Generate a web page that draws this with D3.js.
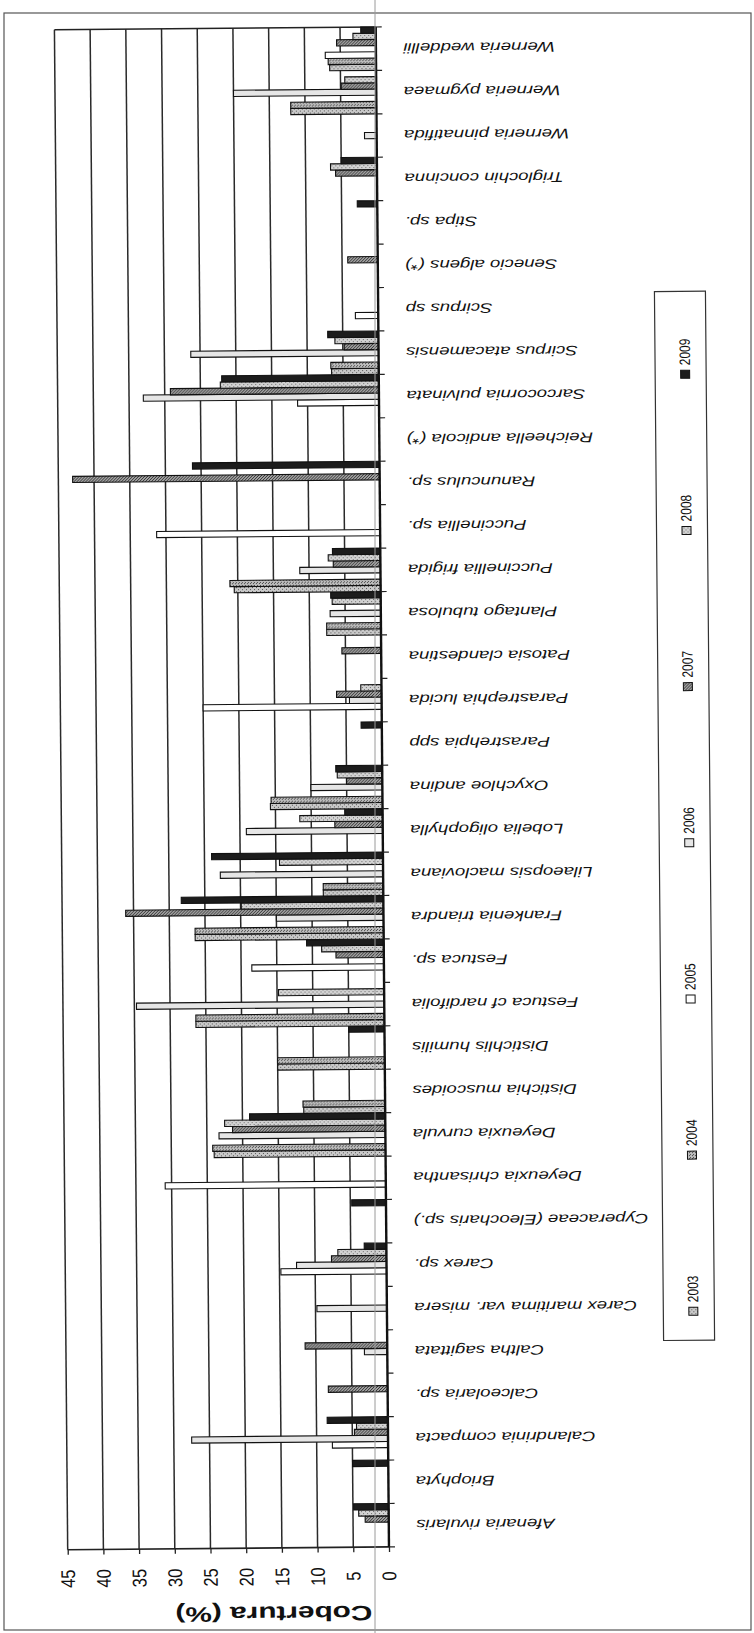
<!DOCTYPE html>
<html><head><meta charset="utf-8">
<script src="https://cdn.jsdelivr.net/npm/d3@7"></script>
<style>html,body{margin:0;padding:0;background:#fff;}svg{display:block;}</style>
</head><body>
<script>
const categories = ["Afenaria rivularis","Briophyta","Calandrinia compacta","Calceolaria sp.","Caltha sagittata","Carex maritima var. misera","Carex sp.","Cyperaceae (Eleocharis sp.)","Deyeuxia chrisantha","Deyeuxia curvula","Distichia muscoides","Distichlis humilis","Festuca cf nardifolia","Festuca sp.","Frankenia triandra","Lilaeopsis macloviana","Lobelia oligophylla","Oxychloe andina","Parastrehpia spp","Parastrephia lucida","Patosia clandestina","Plantago tubulosa","Puccinellia frigida","Puccinellia sp.","Ranunculus sp.","Reicheella andicola (*)","Sarcocornia pulvinata","Scirpus atacamensis","Scirpus sp","Senecio algens (*)","Stipa sp.","Triglochin concinna","Werneria pinnatifida","Werneria pygmaea","Werneria weddellii"];
const years = ["2003","2004","2005","2006","2007","2008","2009"];
const v2003 = [0,0,0,0,0,0,0,0,0,24.0,11.4,15.0,26.4,0,26.4,8.4,0,15.7,0,0,0,7.6,20.5,0,0,0,0,6.6,0,0,0,0,0,12.0,6.5];
const v2004 = [0,0,0,0,0,0,0,0,0,24.2,11.5,15.0,26.4,0,26.4,8.4,0,15.6,0,0,0,7.6,21.1,0,0,0,0,6.7,0,0,0,0,0,12.0,6.7];
const v2005 = [0,0,7.8,0,0,0,14.8,0,30.9,0,0,0,0,18.5,0,0,0,0,0,25.0,0,0,0,31.3,0,0,11.4,0,3.2,0,0,0,0,0,7.1];
const v2006 = [0,0,27.5,0,3.2,9.8,12.6,0,0,23.3,0,0,34.7,0,15.0,22.8,19.1,10.0,0,4.5,0,7.1,11.3,0,0,0,33.0,26.3,0,0,0,0,1.7,20.0,0];
const v2007 = [3.3,0,4.7,8.3,11.5,0,7.7,0,0,21.4,0,0,0,6.7,36.1,0,6.7,5.0,0,6.3,5.5,0,6.6,0,43.0,0,29.2,4.8,0,4.2,0,5.8,0,4.9,5.5];
const v2008 = [4.2,0,4.4,0,0,0,6.8,0,0,22.5,0,0,14.8,8.7,19.9,14.5,11.6,6.3,0,2.9,0,6.8,7.3,0,0,0,22.2,6.1,0,0,0,6.5,0,4.4,3.2];
const v2009 = [4.9,5.0,8.5,0,0,0,3.1,4.8,0,19.0,0,5.0,0,10.8,28.3,24.0,5.3,6.5,2.9,0,0,7.0,6.7,0,26.2,0,22.0,7.1,0,0,2.8,5.0,0,0,2.1];
const valueTicks = [0,5,10,15,20,25,30,35,40,45];
const axisTitle = "Cobertura (%)";

const seriesValues = {"2003":v2003,"2004":v2004,"2005":v2005,"2006":v2006,"2007":v2007,"2008":v2008,"2009":v2009};

const W = 754, H = 1633;
const FONT = "'Liberation Sans', Arial, sans-serif";
const svg = d3.select("body").append("svg").attr("width", W).attr("height", H);

// patterns
const defs = svg.append("defs");
function dotPattern(id, base, dot, size, pts){
  const p = defs.append("pattern").attr("id", id).attr("patternUnits","userSpaceOnUse")
    .attr("width", size).attr("height", size);
  p.append("rect").attr("width", size).attr("height", size).attr("fill", base);
  pts.forEach(([a,b]) => p.append("rect").attr("x",a).attr("y",b).attr("width",1).attr("height",1).attr("fill",dot));
}
dotPattern("p2003", "#c9c9c9", "#555", 4, [[0,0],[2,2]]);
dotPattern("p2004", "#bdbdbd", "#4a4a4a", 3, [[0,0],[1,2]]);
dotPattern("p2007", "#a3a3a3", "#333", 3, [[0,0],[2,1],[1,2]]);
dotPattern("p2008", "#d2d2d2", "#6a6a6a", 4, [[1,1],[3,3]]);
const fills = {"2003":"url(#p2003)","2004":"url(#p2004)","2005":"#ffffff","2006":"#e6e6e6","2007":"url(#p2007)","2008":"url(#p2008)","2009":"#1c1c1c"};

svg.append("rect").attr("width",W).attr("height",H).attr("fill","#fff");
// outer chart border
svg.append("rect").attr("x",4).attr("y",13).attr("width",747).attr("height",1617)
  .attr("fill","none").attr("stroke","#555").attr("stroke-width",1.2);

const g = svg.append("g").attr("transform","rotate(-0.5, 377, 816)");

const x = d3.scaleLinear().domain([0,45]).range([382.6, 61.3]);
const y = d3.scaleBand().domain(categories).range([1547, 27]).padding(0);
const ys = d3.scaleBand().domain(years).range([y.bandwidth(), 0]).padding(0);

// gridlines
g.append("g").selectAll("line").data(valueTicks.filter(t=>t>0)).join("line")
  .attr("x1", d=>x(d)).attr("x2", d=>x(d)).attr("y1", 27).attr("y2", 1547)
  .attr("stroke","#2a2a2a").attr("stroke-width",1.5);
// plot frame top/bottom
g.append("line").attr("x1",x(45)).attr("x2",x(0)).attr("y1",27).attr("y2",27).attr("stroke","#222").attr("stroke-width",1.6);
g.append("line").attr("x1",x(45)).attr("x2",x(0)).attr("y1",1547).attr("y2",1547).attr("stroke","#222").attr("stroke-width",1.6);

// bars
const barData = [];
categories.forEach((c,i)=>years.forEach(yr=>{
  const v = seriesValues[yr][i];
  if (v > 0) barData.push({c, yr, v});
}));
g.append("g").selectAll("rect").data(barData).join("rect")
  .attr("x", d=>x(d.v)).attr("width", d=>x(0)-x(d.v))
  .attr("y", d=>y(d.c)+ys(d.yr)).attr("height", ys.bandwidth())
  .attr("fill", d=>fills[d.yr]).attr("stroke","#111").attr("stroke-width",1.1);

// value axis (bottom)
const xAxis = d3.axisBottom(x).tickValues(valueTicks).tickSize(5).tickPadding(0).tickFormat(d3.format("d"));
const xa = g.append("g").attr("transform","translate(0,1547)").call(xAxis);
xa.select(".domain").remove();
xa.selectAll(".tick line").attr("stroke","#222").attr("stroke-width",1.3);
xa.selectAll(".tick text")
  .attr("y", null).attr("dy", null)
  .attr("transform","translate(0,29) scale(1.2,1) rotate(-90)")
  .attr("text-anchor","middle").attr("dominant-baseline","central")
  .style("font-family", FONT).style("font-size","16.5px").attr("fill","#111");

// category axis line and boundary ticks
g.append("line").attr("x1",x(0)).attr("x2",x(0)).attr("y1",27).attr("y2",1547).attr("stroke","#111").attr("stroke-width",2.4);
const bounds = categories.map(c=>y(c)).concat([y(categories[0])+y.bandwidth()]);
g.append("g").selectAll("line").data(bounds).join("line")
  .attr("x1",x(0)).attr("x2",x(0)+6).attr("y1",d=>d).attr("y2",d=>d)
  .attr("stroke","#222").attr("stroke-width",1.2);

// category labels (upside down)
g.append("g").selectAll("text").data(categories).join("text")
  .attr("transform", d=>`translate(410,${y(d)+y.bandwidth()/2}) scale(1.33,1) rotate(180)`)
  .attr("text-anchor","end").attr("dominant-baseline","central")
  .style("font-family", FONT).style("font-style","italic").style("font-size","14px").attr("fill","#111")
  .text(d=>d);

// axis title
g.append("text").attr("transform","translate(267,1613) scale(1.42,1) rotate(180)")
  .attr("text-anchor","middle").attr("dominant-baseline","central")
  .style("font-family", FONT).style("font-weight","bold").style("font-size","21px").attr("fill","#111")
  .text(axisTitle);

// legend
const lg = g.append("g");
lg.append("rect").attr("x",659).attr("y",294).attr("width",51).attr("height",1049)
  .attr("fill","#fff").attr("stroke","#333").attr("stroke-width",1.2);
const ly = d3.scalePoint().domain(years).range([1314, 377]);
const items = lg.selectAll("g").data(years).join("g").attr("transform", d=>`translate(689,${ly(d)})`);
items.append("rect").attr("x",-4.5).attr("y",-4).attr("width",9).attr("height",8)
  .attr("fill", d=>fills[d]).attr("stroke","#111").attr("stroke-width",1);
items.append("text").attr("transform","translate(0,-9) scale(1.25,1) rotate(-90)")
  .attr("text-anchor","start").attr("dominant-baseline","central")
  .style("font-family", FONT).style("font-size","12px").attr("fill","#111")
  .text(d=>d);

// scanner fold line
svg.append("line").attr("x1",375).attr("x2",375).attr("y1",0).attr("y2",H).attr("stroke","#9a9a9a").attr("stroke-width",1);
</script>
</body></html>
